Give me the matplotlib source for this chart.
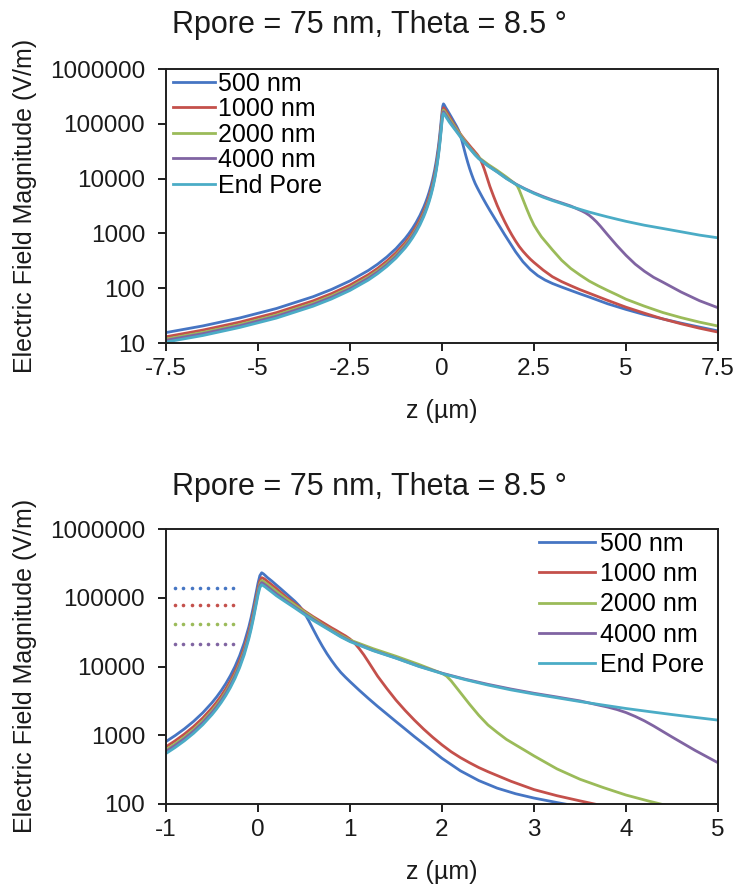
import matplotlib
matplotlib.use("Agg")
import matplotlib.pyplot as plt
from matplotlib.ticker import NullLocator

plt.rcParams['font.family'] = ['Liberation Sans', 'DejaVu Sans']

# Axial position (µm) on the entrance side, shared by all curves
z_left = [-7.5, -6.5, -5.5, -4.5, -3.5, -3.0, -2.5, -2.0, -1.75, -1.5, -1.25, -1.0,
          -0.9, -0.8, -0.7, -0.6, -0.5, -0.45, -0.4, -0.35, -0.3, -0.25, -0.2,
          -0.15, -0.1, -0.075, -0.05, -0.025, 0.0, 0.02]

# ---- 500 nm ----
e500_left = [15.5, 20.5, 28.6, 42.6, 70.1, 95.1, 136, 211, 274, 371, 528, 810,
             991, 1239, 1594, 2126, 2976, 3604, 4453, 5638, 7362, 10000, 14316,
             22030, 37560, 51630, 73870, 109500, 162800, 209300]
z500_right = [0.04, 0.06, 0.08, 0.1, 0.15, 0.2, 0.25, 0.3, 0.35, 0.4, 0.45, 0.5, 0.55,
              0.6, 0.65, 0.7, 0.75, 0.8, 0.85, 0.9, 0.95, 1.0, 1.1, 1.2, 1.3, 1.4, 1.5,
              1.6, 1.7, 1.8, 1.9, 2.0, 2.2, 2.4, 2.6, 2.8, 3.0, 3.25, 3.5, 3.75, 4.0,
              4.5, 5.0, 5.5, 6.0, 6.5, 7.0, 7.5]
e500_right = [231000, 222000, 210000, 198000, 175000, 153000, 134000, 117000, 102000,
              89000, 76000, 61600, 46800, 34700, 25900, 19700, 15300, 12200, 9900, 8200,
              7000, 6030, 4520, 3430, 2630, 2040, 1580, 1230, 955, 750, 589, 462, 304,
              219, 170, 141, 122, 105, 91, 79, 69, 52, 41, 33, 27.5, 23, 19.5, 16.6]

# ---- 1000 nm ----
e1000_left = [13.0, 17.2, 24.0, 35.8, 58.9, 79.9, 114, 177, 230, 312, 444, 680,
              832, 1041, 1339, 1786, 2500, 3027, 3741, 4736, 6184, 8400, 12030,
              18510, 31550, 43370, 62050, 91980, 136800, 175800]
z1000_right = [0.04, 0.06, 0.08, 0.1, 0.15, 0.2, 0.3, 0.4, 0.5, 0.6, 0.7, 0.8, 0.85,
               0.9, 0.95, 1.0, 1.05, 1.1, 1.15, 1.2, 1.25, 1.3, 1.4, 1.5, 1.6, 1.7,
               1.8, 1.9, 2.0, 2.1, 2.2, 2.3, 2.4, 2.5, 2.75, 3.0, 3.25, 3.5, 3.75,
               4.0, 4.5, 5.0, 5.5, 6.0, 6.5, 7.0, 7.5]
e1000_right = [196000, 191000, 183000, 174000, 154000, 136000, 104000, 82000, 65000,
               53000, 44000, 36500, 33500, 30500, 27900, 25100, 21900, 18200, 14800,
               11700, 9200, 7240, 4790, 3240, 2290, 1660, 1230, 933, 724, 575, 473,
               398, 339, 295, 214, 162, 132, 111, 94, 81, 60, 45, 35, 27.5, 22.4,
               18.6, 15.8]

# ---- 2000 nm ----
e2000_left = [11.8, 15.6, 21.7, 32.4, 53.3, 72.3, 103, 160, 208, 282, 401, 616,
              753, 942, 1211, 1616, 2262, 2739, 3384, 4285, 5595, 7600, 10880,
              16740, 28550, 39240, 56140, 83220, 123700, 159100]
z2000_right = [0.04, 0.06, 0.08, 0.1, 0.15, 0.2, 0.3, 0.4, 0.5, 0.6, 0.7, 0.8, 0.9,
               1.0, 1.25, 1.5, 1.75, 2.0, 2.05, 2.1, 2.2, 2.3, 2.4, 2.5, 2.6, 2.7,
               2.8, 2.9, 3.0, 3.25, 3.5, 3.75, 4.0, 4.25, 4.5, 4.75, 5.0, 5.5, 6.0,
               6.5, 7.0, 7.5]
e2000_right = [178000, 172000, 165000, 158000, 140000, 124000, 98000, 78500, 63000,
               51000, 41000, 34000, 28500, 24300, 18200, 14100, 10700, 7940, 7240,
               6170, 4170, 2820, 1950, 1410, 1100, 871, 724, 603, 501, 324, 229, 174,
               135, 110, 91, 76, 63, 47, 36, 29, 24, 20.4]

# ---- 4000 nm ----
e4000_left = [11.2, 14.8, 20.6, 30.7, 50.5, 68.5, 97.9, 152, 197, 267, 380, 583,
              714, 892, 1148, 1531, 2143, 2595, 3206, 4059, 5301, 7200, 10310,
              15860, 27040, 37170, 53190, 78840, 117200, 150700]
z4000_right = [0.04, 0.06, 0.08, 0.1, 0.15, 0.2, 0.3, 0.4, 0.5, 0.6, 0.7, 0.8, 0.9,
               1.0, 1.25, 1.5, 1.75, 2.0, 2.25, 2.5, 2.75, 3.0, 3.25, 3.5, 3.6, 3.7,
               3.8, 3.9, 4.0, 4.1, 4.2, 4.3, 4.4, 4.5, 4.75, 5.0, 5.25, 5.5, 5.75,
               6.0, 6.5, 7.0, 7.5]
e4000_right = [166000, 160000, 153000, 146000, 129000, 114000, 91000, 73500, 59500,
               48500, 40000, 33000, 27500, 23500, 17200, 13300, 10100, 8000, 6550,
               5500, 4700, 4080, 3600, 3160, 2950, 2750, 2570, 2370, 2140, 1880, 1620,
               1365, 1135, 944, 603, 398, 275, 204, 158, 129, 85, 59, 44]

# ---- End Pore ----
eend_left = [10.4, 13.7, 19.2, 28.5, 47.0, 63.7, 91.1, 141, 184, 249, 354, 543,
             664, 830, 1068, 1424, 1994, 2415, 2984, 3777, 4933, 6700, 9592,
             14760, 25170, 34590, 49490, 73370, 109100, 140200]
zend_right = [0.04, 0.06, 0.08, 0.1, 0.15, 0.2, 0.3, 0.4, 0.5, 0.6, 0.7, 0.8, 0.9,
              1.0, 1.25, 1.5, 1.75, 2.0, 2.25, 2.5, 2.75, 3.0, 3.25, 3.5, 3.75, 4.0,
              4.25, 4.5, 4.75, 5.0, 5.5, 6.0, 6.5, 7.0, 7.5]
eend_right = [155000, 149000, 143000, 136000, 121000, 107000, 87000, 71000, 57500,
              46800, 38900, 32400, 26900, 23000, 17000, 13200, 10000, 7900, 6450,
              5370, 4570, 3980, 3510, 3090, 2750, 2450, 2210, 2000, 1820, 1660, 1410,
              1230, 1070, 930, 830]

labels = ["500 nm", "1000 nm", "2000 nm", "4000 nm", "End Pore"]
curves = [
    (z_left + z500_right, e500_left + e500_right),
    (z_left + z1000_right, e1000_left + e1000_right),
    (z_left + z2000_right, e2000_left + e2000_right),
    (z_left + z4000_right, e4000_left + e4000_right),
    (z_left + zend_right, eend_left + eend_right),
]
colors = ["#4675C3", "#C4504B", "#9BBB59", "#8064A2", "#4BACC6"]

# Dotted reference levels in the zoomed panel
dot_z = [-0.90, -0.81, -0.72, -0.63, -0.54, -0.45, -0.36, -0.27]
dot_levels = [140000, 77500, 41500, 21000]

title = "Rpore = 75 nm, Theta = 8.5 °"
ylabel = "Electric Field Magnitude (V/m)"
xlabel = "z (µm)"

top_xticks = [-7.5, -5, -2.5, 0, 2.5, 5, 7.5]
top_xticklabels = ["-7.5", "-5", "-2.5", "0", "2.5", "5", "7.5"]
top_yticks = [10, 100, 1000, 10000, 100000, 1000000]
bot_xticks = [-1, 0, 1, 2, 3, 4, 5]
bot_yticks = [100, 1000, 10000, 100000, 1000000]

W, H = 739, 884
fig = plt.figure(figsize=(W / 100, H / 100), dpi=100)


def frac_box(left, top, right, bottom):
    return [left / W, 1 - bottom / H, (right - left) / W, (bottom - top) / H]


ax1 = fig.add_axes(frac_box(166, 69, 718, 343))
ax2 = fig.add_axes(frac_box(166, 529, 718, 804))

spine_c = "#1f1f1f"
text_c = "#1a1a1a"


def style(ax, xticks, xlabels, yticks):
    ax.set_yscale("log")
    ax.set_xticks(xticks, xlabels)
    ax.set_yticks(yticks, [str(v) for v in yticks])
    ax.yaxis.set_minor_locator(NullLocator())
    ax.tick_params(axis="both", which="major", direction="out", length=6,
                   width=1.4, color=spine_c, labelsize=17.5, labelcolor=text_c)
    ax.tick_params(axis="y", pad=9)
    ax.tick_params(axis="x", pad=5)
    for s in ax.spines.values():
        s.set_color(spine_c)
        s.set_linewidth(1.4)


for lab, (zz, ee), c in zip(labels, curves, colors):
    ax1.plot(zz, ee, color=c, lw=2.0, label=lab, solid_joinstyle="round")
    ax2.plot(zz, ee, color=c, lw=2.0, label=lab, solid_joinstyle="round")

for lvl, c in zip(dot_levels, colors):
    ax2.plot(dot_z, [lvl] * len(dot_z), linestyle="none", marker="o",
             markersize=2.6, color=c, markeredgewidth=0)

style(ax1, top_xticks, top_xticklabels, top_yticks)
ax1.set_xlim(-7.5, 7.5)
ax1.set_ylim(10, 1000000)

style(ax2, bot_xticks, [str(v) for v in bot_xticks], bot_yticks)
ax2.set_xlim(-1, 5)
ax2.set_ylim(100, 1000000)

ax1.legend(loc="upper left", bbox_to_anchor=((172.7 - 166) / 552, 0.99),
           frameon=False, fontsize=18, borderpad=0, borderaxespad=0,
           handlelength=1.7, handletextpad=0.12, labelspacing=0.06)
ax2.legend(loc="upper left", bbox_to_anchor=((539 - 166) / 552, 0.99),
           frameon=False, fontsize=18, borderpad=0, borderaxespad=0,
           handlelength=2.24, handletextpad=0.2, labelspacing=0.25)

fig.text(0.5, 1 - 33.5 / H, title, ha="center", va="baseline", fontsize=22, color=text_c)
fig.text(0.5, 1 - 495 / H, title, ha="center", va="baseline", fontsize=22, color=text_c)

xc = (166 + 718) / 2 / W
fig.text(xc, 1 - 418 / H, xlabel, ha="center", va="baseline", fontsize=18, color=text_c)
fig.text(xc, 1 - 879 / H, xlabel, ha="center", va="baseline", fontsize=18, color=text_c)

fig.text(25 / W, 1 - 206 / H, ylabel, rotation=90, ha="center", va="center", fontsize=18, color=text_c)
fig.text(25 / W, 1 - 666 / H, ylabel, rotation=90, ha="center", va="center", fontsize=18, color=text_c)

fig.savefig("out.png", dpi=100, facecolor="white")
